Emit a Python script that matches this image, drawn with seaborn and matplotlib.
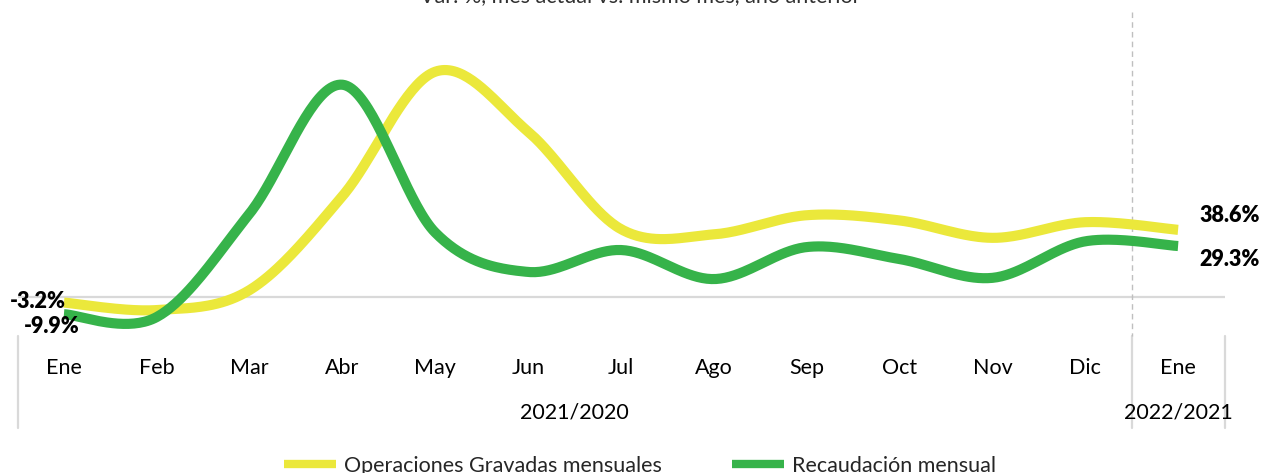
import numpy as np
import pandas as pd
import matplotlib
matplotlib.use("Agg")
import matplotlib.pyplot as plt
import seaborn as sns
from matplotlib.lines import Line2D

# ---------------- data ----------------
months = ["Ene", "Feb", "Mar", "Abr", "May", "Jun", "Jul", "Ago", "Sep", "Oct", "Nov", "Dic", "Ene"]
groups = ["2021/2020", "2022/2021"]
group_sizes = [12, 1]
operaciones = [-3.2, -7.5, 4.0, 58.0, 129.5, 95.0, 39.0, 36.0, 47.0, 44.0, 34.0, 43.0, 38.6]
recaudacion = [-9.9, -11.5, 48.0, 122.0, 37.0, 14.4, 27.0, 10.3, 28.7, 21.8, 11.0, 32.0, 29.3]
series_names = ["Operaciones Gravadas mensuales", "Recaudación mensual"]
title_text = "Var. %, mes actual vs. mismo mes, año anterior"

YELLOW = "#EBE83B"
GREEN = "#36B34A"
GRID = "#D9D9D9"

sns.set_theme(style="white")
plt.rcParams["font.family"] = ["Lato", "DejaVu Sans"]

W, H = 1264, 473
fig = plt.figure(figsize=(W / 100, H / 100), dpi=100)

px_per_unit = 1.74
zero_px = 297
top_px = 12
bot_px = 330
ax = fig.add_axes([17.5 / W, (H - bot_px) / H, 1207 / W, (bot_px - top_px) / H])
ax.set_xlim(-0.5, len(months) - 0.5)
ax.set_ylim(-(bot_px - zero_px) / px_per_unit, (zero_px - top_px) / px_per_unit)


def smooth(vals, n=40):
    """Excel-style smoothed line (Catmull-Rom / Bezier through the points)."""
    p = np.asarray(vals, float)
    x = np.arange(len(p), dtype=float)
    xs, ys = [], []
    for i in range(len(p) - 1):
        p0 = p[i - 1] if i > 0 else p[i]
        x0 = x[i - 1] if i > 0 else x[i]
        p3 = p[i + 2] if i + 2 < len(p) else p[i + 1]
        x3 = x[i + 2] if i + 2 < len(p) else x[i + 1]
        c1y = p[i] + (p[i + 1] - p0) / 6
        c2y = p[i + 1] - (p3 - p[i]) / 6
        c1x = x[i] + (x[i + 1] - x0) / 6
        c2x = x[i + 1] - (x3 - x[i]) / 6
        t = np.linspace(0, 1, n, endpoint=(i == len(p) - 2))
        b0, b1, b2, b3 = (1 - t) ** 3, 3 * t * (1 - t) ** 2, 3 * t ** 2 * (1 - t), t ** 3
        xs.append(b0 * x[i] + b1 * c1x + b2 * c2x + b3 * x[i + 1])
        ys.append(b0 * p[i] + b1 * c1y + b2 * c2y + b3 * p[i + 1])
    return np.concatenate(xs), np.concatenate(ys)


# zero line
ax.axhline(0, color=GRID, lw=1.6, zorder=1)

for vals, col, name in [(operaciones, YELLOW, series_names[0]), (recaudacion, GREEN, series_names[1])]:
    sx, sy = smooth(vals)
    df = pd.DataFrame({"x": sx, "y": sy})
    sns.lineplot(data=df, x="x", y="y", sort=False, ax=ax, color=col, lw=7.3,
                 solid_capstyle="butt", clip_on=False, zorder=3)

# data labels
lab_kw = dict(textcoords="offset pixels", fontsize=15.5, fontweight="heavy", color="black",
              va="center", annotation_clip=False)
ax.annotate(f"{operaciones[0]:.1f}%", (0, operaciones[0]), xytext=(2, 1), ha="right", **lab_kw)
ax.annotate(f"{recaudacion[0]:.1f}%", (0, recaudacion[0]), xytext=(16, -12), ha="right", **lab_kw)
n = len(months) - 1
ax.annotate(f"{operaciones[n]:.1f}%", (n, operaciones[n]), xytext=(21, 14), ha="left", **lab_kw)
ax.annotate(f"{recaudacion[n]:.1f}%", (n, recaudacion[n]), xytext=(21, -13), ha="left", **lab_kw)

# category axis
ax.set_xticks(range(len(months)))
ax.set_xticklabels(months, fontsize=15.5, color="black")
ax.tick_params(axis="x", length=0, pad=20)
ax.set_yticks([])
ax.set_xlabel("")
ax.set_ylabel("")
for s in ax.spines.values():
    s.set_visible(False)

# group separators and group labels
y_sep_top = -(336 - zero_px) / px_per_unit
y_sep_bot = -(428 - zero_px) / px_per_unit
y_grp = -(412 - zero_px) / px_per_unit
start = -0.5
bounds = [start]
for g, size in zip(groups, group_sizes):
    end = start + size
    ax.text((start + end) / 2, y_grp, g, ha="center", va="center", fontsize=15.5, color="black", clip_on=False)
    bounds.append(end)
    start = end
for b in bounds:
    ax.plot([b, b], [y_sep_top, y_sep_bot], color=GRID, lw=1.6, clip_on=False, zorder=1)
# dashed separator between years
ax.plot([bounds[1], bounds[1]], [ax.get_ylim()[1], y_sep_top], color="#BFBFBF", lw=1.0,
        ls=(0, (4, 3)), clip_on=False, zorder=2)

# title (cut off at the top in the reference)
fig.text(640 / W, 1 - 2 / H, title_text, ha="center", va="baseline", fontsize=15.5, color="#303030")

# legend
handles = [Line2D([0], [0], color=YELLOW, lw=6, solid_capstyle="butt"),
           Line2D([0], [0], color=GREEN, lw=6, solid_capstyle="butt")]
fig.legend(handles, series_names, loc="center", bbox_to_anchor=(640 / W, 1 - 466 / H), ncol=2,
           frameon=False, fontsize=15.5, handlelength=2.4, handletextpad=0.35, columnspacing=3.3)

fig.savefig("out.png", dpi=100)
